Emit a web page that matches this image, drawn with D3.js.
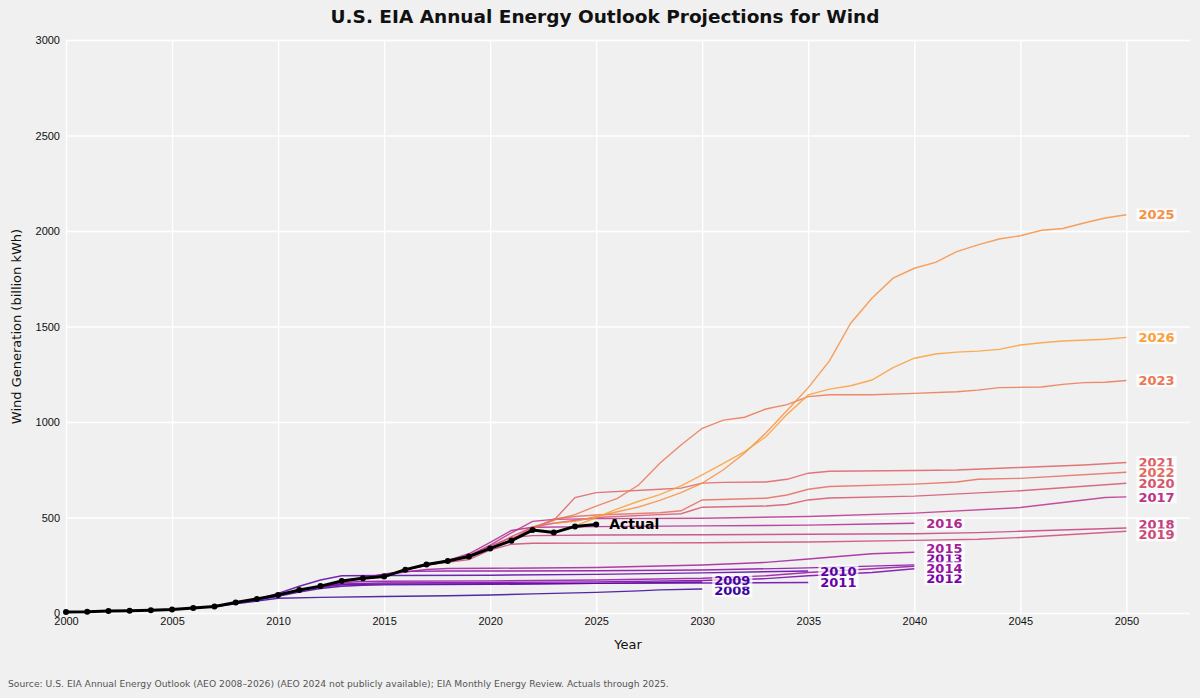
<!DOCTYPE html>
<html>
<head>
<meta charset="utf-8">
<script src="https://cdn.jsdelivr.net/npm/d3@7"></script>
<style>
  body { margin: 0; background: #f0f0f0; }
  svg { display: block; font-family: "DejaVu Sans", sans-serif; }
  .grid line { stroke: #ffffff; stroke-width: 1.4; }
  .tick text { fill: #111; font-size: 11px; }
</style>
</head>
<body>
<script>
// actual generation, billion kWh
const actualYears = [2000, 2001, 2002, 2003, 2004, 2005, 2006, 2007, 2008, 2009, 2010, 2011, 2012,
  2013, 2014, 2015, 2016, 2017, 2018, 2019, 2020, 2021, 2022, 2023, 2024, 2025];
const actualValues = [5.6, 6.7, 10.4, 11.2, 14.1, 17.8, 26.6, 34.5, 55.4, 73.9, 94.7, 120.2, 140.8,
  167.8, 181.7, 190.7, 227.0, 254.3, 272.7, 295.9, 337.9, 378.2, 434.3, 421.1, 453.5, 464];

// projections, [year, value]
const aeo2008 = [[2006, 27], [2007, 33], [2008, 48], [2009, 62], [2010, 77], [2012, 82], [2015, 86],
  [2018, 90], [2020, 94], [2022, 100], [2025, 108], [2027, 116], [2028, 121], [2030, 126]];
const aeo2009 = [[2007, 35], [2008, 52], [2009, 66], [2010, 88], [2011, 110], [2012, 128], [2013, 140],
  [2014, 145], [2015, 147], [2020, 150], [2025, 155], [2030, 162]];
const aeo2010 = [[2008, 55], [2009, 72], [2010, 103], [2011, 140], [2012, 173], [2013, 195], [2015, 196],
  [2020, 198], [2025, 202], [2030, 210], [2035, 220]];
const aeo2011 = [[2009, 72], [2010, 95], [2011, 118], [2012, 135], [2013, 148], [2014, 150], [2015, 151],
  [2020, 153], [2025, 155], [2030, 157], [2035, 160]];
const aeo2012 = [[2010, 95], [2011, 120], [2012, 140], [2013, 152], [2014, 155], [2015, 157], [2020, 160],
  [2025, 163], [2030, 170], [2033, 180], [2035, 195], [2038, 212], [2040, 232]];
const aeo2013 = [[2011, 120], [2012, 141], [2013, 168], [2014, 182], [2015, 205], [2016, 218], [2018, 220],
  [2020, 220], [2025, 221], [2030, 225], [2035, 236], [2040, 252]];
const aeo2014 = [[2012, 141], [2013, 160], [2014, 165], [2015, 166], [2020, 168], [2025, 173], [2030, 182],
  [2033, 195], [2035, 212], [2040, 245]];
const aeo2015 = [[2013, 168], [2014, 185], [2015, 200], [2016, 215], [2017, 228], [2018, 233], [2020, 234],
  [2025, 238], [2030, 251], [2033, 265], [2035, 283], [2038, 310], [2040, 318]];
const aeo2016 = [[2014, 182], [2015, 191], [2016, 225], [2017, 255], [2018, 275], [2019, 310], [2020, 370],
  [2021, 432], [2022, 449], [2025, 452], [2030, 456], [2035, 460], [2038, 466], [2040, 470]];
const aeo2017 = [[2015, 191], [2016, 226], [2017, 250], [2018, 270], [2019, 300], [2020, 355], [2021, 420],
  [2022, 480], [2023, 490], [2025, 494], [2030, 496], [2035, 505], [2040, 523], [2045, 552], [2049, 605],
  [2050, 608]];
const aeo2018 = [[2016, 226], [2017, 250], [2018, 275], [2019, 300], [2020, 350], [2021, 395], [2022, 405],
  [2025, 408], [2030, 410], [2035, 412], [2040, 415], [2043, 421], [2045, 428], [2050, 445]];
const aeo2019 = [[2017, 254], [2018, 265], [2019, 280], [2020, 330], [2021, 360], [2022, 365], [2025, 366],
  [2030, 368], [2035, 372], [2040, 380], [2043, 386], [2045, 395], [2050, 428]];
const aeo2020 = [[2018, 273], [2019, 300], [2020, 340], [2021, 400], [2022, 450], [2023, 470], [2025, 500],
  [2028, 515], [2029, 520], [2030, 554], [2033, 560], [2034, 568], [2035, 592], [2036, 602], [2040, 612],
  [2045, 640], [2050, 679]];
const aeo2021 = [[2019, 296], [2020, 338], [2021, 385], [2022, 450], [2023, 485], [2024, 604], [2025, 630],
  [2028, 648], [2029, 654], [2030, 680], [2031, 684], [2033, 686], [2034, 700], [2035, 732], [2036, 742],
  [2040, 746], [2042, 749], [2045, 762], [2048, 775], [2050, 788]];
const aeo2022 = [[2020, 338], [2021, 380], [2022, 440], [2023, 492], [2024, 505], [2025, 513], [2028, 525],
  [2029, 535], [2030, 592], [2033, 601], [2034, 618], [2035, 648], [2036, 662], [2040, 675], [2042, 686],
  [2043, 700], [2045, 705], [2050, 737]];
const aeo2023 = [[2021, 380], [2022, 440], [2023, 487], [2024, 515], [2025, 560], [2026, 600], [2027, 670],
  [2028, 784], [2029, 880], [2030, 967], [2031, 1010], [2032, 1025], [2033, 1068], [2034, 1091],
  [2035, 1133], [2036, 1143], [2038, 1143], [2040, 1150], [2042, 1158], [2043, 1167], [2044, 1180],
  [2046, 1183], [2047, 1197], [2048, 1206], [2049, 1208], [2050, 1217]];
const aeo2025 = [[2023, 470], [2024, 480], [2025, 505], [2026, 530], [2027, 555], [2028, 590], [2029, 630],
  [2030, 680], [2031, 750], [2032, 838], [2033, 942], [2034, 1060], [2035, 1180], [2036, 1320],
  [2037, 1517], [2038, 1648], [2039, 1753], [2040, 1805], [2041, 1836], [2042, 1892], [2043, 1927],
  [2044, 1958], [2045, 1975], [2046, 2004], [2047, 2013], [2048, 2042], [2049, 2068], [2050, 2085]];
const aeo2026 = [[2024, 455], [2025, 500], [2026, 545], [2027, 585], [2028, 620], [2029, 665], [2030, 723],
  [2031, 783], [2032, 845], [2033, 923], [2034, 1040], [2035, 1142], [2036, 1172], [2037, 1190],
  [2038, 1220], [2039, 1285], [2040, 1334], [2041, 1356], [2042, 1366], [2043, 1371], [2044, 1380],
  [2045, 1403], [2046, 1415], [2047, 1424], [2049, 1433], [2050, 1443]];

const aeoYears = [2008, 2009, 2010, 2011, 2012, 2013, 2014, 2015, 2016, 2017, 2018, 2019, 2020, 2021,
  2022, 2023, 2025, 2026];
const aeoSeries = [aeo2008, aeo2009, aeo2010, aeo2011, aeo2012, aeo2013, aeo2014, aeo2015, aeo2016,
  aeo2017, aeo2018, aeo2019, aeo2020, aeo2021, aeo2022, aeo2023, aeo2025, aeo2026];

const xTicks = d3.range(2000, 2051, 5);
const yTicks = [0, 500, 1000, 1500, 2000, 2500, 3000];

const W = 1200, H = 698;
const margin = { top: 40, right: 10, bottom: 85, left: 66 };

const svg = d3.select("body").append("svg").attr("width", W).attr("height", H);
svg.append("rect").attr("width", W).attr("height", H).attr("fill", "#f0f0f0");

const x = d3.scaleLinear().domain([2000, 2053]).range([margin.left, W - margin.right]);
const y = d3.scaleLinear().domain([0, 3000]).range([H - margin.bottom, margin.top]);

// grid
svg.append("g").attr("class", "grid")
  .attr("transform", `translate(0,${H - margin.bottom})`)
  .call(d3.axisBottom(x).tickValues(xTicks).tickSize(-(H - margin.bottom - margin.top)).tickFormat(""))
  .call(g => g.select(".domain").remove());
svg.append("g").attr("class", "grid")
  .attr("transform", `translate(${margin.left},0)`)
  .call(d3.axisLeft(y).tickValues(yTicks).tickSize(-(W - margin.left - margin.right)).tickFormat(""))
  .call(g => g.select(".domain").remove());

// tick labels
svg.append("g")
  .attr("transform", `translate(0,${H - margin.bottom})`)
  .call(d3.axisBottom(x).tickValues(xTicks).tickFormat(d3.format("d")).tickSize(0).tickPadding(4))
  .call(g => g.select(".domain").remove());
svg.append("g")
  .attr("transform", `translate(${margin.left},0)`)
  .call(d3.axisLeft(y).tickValues(yTicks).tickFormat(d3.format("d")).tickSize(0).tickPadding(6))
  .call(g => g.select(".domain").remove());

const color = yr => d3.interpolatePlasma(0.08 + 0.7 * (yr - 2008) / 18);

const line = d3.line().x(d => x(d[0])).y(d => y(d[1]));

aeoSeries.forEach((pts, i) => {
  svg.append("path")
    .datum(pts)
    .attr("d", line)
    .attr("fill", "none")
    .attr("stroke", color(aeoYears[i]))
    .attr("stroke-width", 1.4)
    .attr("opacity", 0.85);
});

// actual line
const actual = actualYears.map((yr, i) => [yr, actualValues[i]]);
svg.append("path")
  .datum(actual)
  .attr("d", line)
  .attr("fill", "none")
  .attr("stroke", "#000")
  .attr("stroke-width", 3)
  .attr("stroke-linejoin", "round");
svg.selectAll(".dot")
  .data(actual)
  .enter()
  .append("circle")
  .attr("cx", d => x(d[0]))
  .attr("cy", d => y(d[1]))
  .attr("r", 3)
  .attr("fill", "#000");

const last = actual[actual.length - 1];
svg.append("text")
  .attr("x", x(last[0]) + 13)
  .attr("y", y(last[1]))
  .attr("dy", "0.35em")
  .attr("font-size", 14)
  .attr("font-weight", "bold")
  .attr("fill", "#000")
  .text("Actual");

// end labels, spread apart where they collide
const labels = aeoSeries.map((pts, i) => {
  const end = pts[pts.length - 1];
  return { yr: aeoYears[i], ex: x(end[0]), ey: y(end[1]), ly: y(end[1]) };
});
const minGap = 10;
d3.groups(labels, d => d.ex).forEach(([, group]) => {
  group.sort((a, b) => a.ey - b.ey);
  for (let k = 0; k < 200; k++) {
    let moved = false;
    for (let j = 1; j < group.length; j++) {
      const gap = group[j].ly - group[j - 1].ly;
      if (gap < minGap - 0.01) {
        const push = (minGap - gap) / 2;
        group[j - 1].ly -= push;
        group[j].ly += push;
        moved = true;
      }
    }
    if (!moved) break;
  }
});

labels.forEach(d => {
  const g = svg.append("g");
  const t = g.append("text")
    .attr("x", d.ex + 12)
    .attr("y", d.ly)
    .attr("dy", "0.36em")
    .attr("font-size", 13)
    .attr("font-weight", "bold")
    .attr("fill", color(d.yr))
    .text(d.yr);
  const b = t.node().getBBox();
  g.insert("rect", "text")
    .attr("x", b.x - 2)
    .attr("y", b.y + 1)
    .attr("width", b.width + 4)
    .attr("height", b.height - 2)
    .attr("fill", "#ffffff")
    .attr("opacity", 0.7);
});

// titles
svg.append("text")
  .attr("x", W / 2 + 5)
  .attr("y", 23)
  .attr("text-anchor", "middle")
  .attr("font-size", 18.5)
  .attr("font-weight", "bold")
  .attr("fill", "#111")
  .text("U.S. EIA Annual Energy Outlook Projections for Wind");

svg.append("text")
  .attr("x", (margin.left + W - margin.right) / 2)
  .attr("y", 649)
  .attr("text-anchor", "middle")
  .attr("font-size", 13)
  .attr("fill", "#111")
  .text("Year");

svg.append("text")
  .attr("transform", `translate(21,${(margin.top + H - margin.bottom) / 2}) rotate(-90)`)
  .attr("text-anchor", "middle")
  .attr("font-size", 13)
  .attr("fill", "#111")
  .text("Wind Generation (billion kWh)");

svg.append("text")
  .attr("x", 8)
  .attr("y", 687)
  .attr("font-size", 9.2)
  .attr("fill", "#555")
  .text("Source: U.S. EIA Annual Energy Outlook (AEO 2008\u20132026) (AEO 2024 not publicly available); EIA Monthly Energy Review. Actuals through 2025.");
</script>
</body>
</html>
